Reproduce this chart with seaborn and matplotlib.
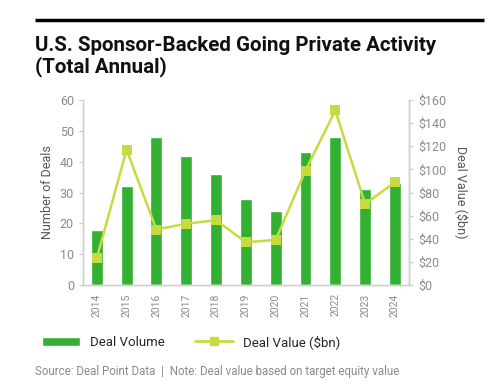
import pandas as pd
import matplotlib.pyplot as plt
import seaborn as sns
from matplotlib.lines import Line2D
from matplotlib.patches import Patch

years = ["2014", "2015", "2016", "2017", "2018", "2019", "2020", "2021", "2022", "2023", "2024"]
deal_volume = [18, 32, 48, 42, 36, 28, 24, 43, 48, 31, 33]
deal_value = [23, 117, 48, 53, 56, 37, 39, 99, 151, 70, 89]

BAR_GREEN = "#32b032"
LINE_GREEN = "#c8db3e"
GREY = "#8a8a8a"

sns.set_style("white")
plt.rcParams['font.family'] = ['Roboto', 'DejaVu Sans']

df = pd.DataFrame({"year": years, "volume": deal_volume, "value": deal_value})

fig = plt.figure(figsize=(4.99, 3.89), dpi=100)
ax = fig.add_axes([83 / 499, 1 - 285 / 389, (409 - 83) / 499, 185 / 389])

sns.barplot(data=df, x="year", y="volume", color=BAR_GREEN, width=0.4,
            saturation=1, ax=ax)
ax.set_ylim(0, 60)
ax.set_yticks(range(0, 61, 10))
ax.set_xlabel("")
ax.set_ylabel("Number of Deals", color="#555555", fontsize=9)
ax.tick_params(axis="x", rotation=90, labelsize=7.5, colors=GREY, length=0, pad=6)
ax.tick_params(axis="y", labelsize=9, colors=GREY, length=3, color="#cccccc")

ax2 = ax.twinx()
sns.lineplot(data=df, x="year", y="value", color=LINE_GREEN, marker="s",
             markersize=7, markeredgewidth=0, linewidth=1.8, ax=ax2, sort=False)
ax2.set_ylim(0, 160)
ax2.set_yticks(range(0, 161, 20))
ax2.set_yticklabels([f"${v}" for v in range(0, 161, 20)])
ax2.set_ylabel("Deal Value ($bn)", color="#555555", fontsize=9, rotation=270, labelpad=16)
ax2.tick_params(axis="y", labelsize=9, colors=GREY, length=3, color="#cccccc")
ax.set_xlim(-0.46, 10.47)

for a in (ax, ax2):
    a.spines["top"].set_visible(False)
    for s in ("left", "right", "bottom"):
        a.spines[s].set_color("#d0d0d0")
        a.spines[s].set_linewidth(1)

# top rule and title
fig.add_artist(Line2D([35 / 499, 484 / 499], [1 - 20 / 389, 1 - 20 / 389],
                      color="black", linewidth=2.5, transform=fig.transFigure,
                      solid_capstyle="butt"))
fig.text(35 / 499, 1 - 36 / 389, "U.S. Sponsor-Backed Going Private Activity\n(Total Annual)",
         fontsize=14.8, fontweight="bold", color="#111111", linespacing=1.1,
         va="top", ha="left")

handles = [Patch(facecolor=BAR_GREEN, label="Deal Volume"),
           Line2D([0], [0], color=LINE_GREEN, marker="s", markersize=6,
                  linewidth=2, label="Deal Value ($bn)")]
fig.legend(handles=handles, loc="center left", bbox_to_anchor=(30 / 499, 1 - 342 / 389),
           ncol=2, frameon=False, fontsize=9.5, handlelength=2.9, columnspacing=2.3,
           handletextpad=0.75)

fig.text(35 / 499, 1 - 371 / 389,
         "Source: Deal Point Data  |  Note: Deal value based on target equity value",
         fontsize=8.3, color=GREY, va="center", ha="left")

fig.savefig("out.png", dpi=100)
